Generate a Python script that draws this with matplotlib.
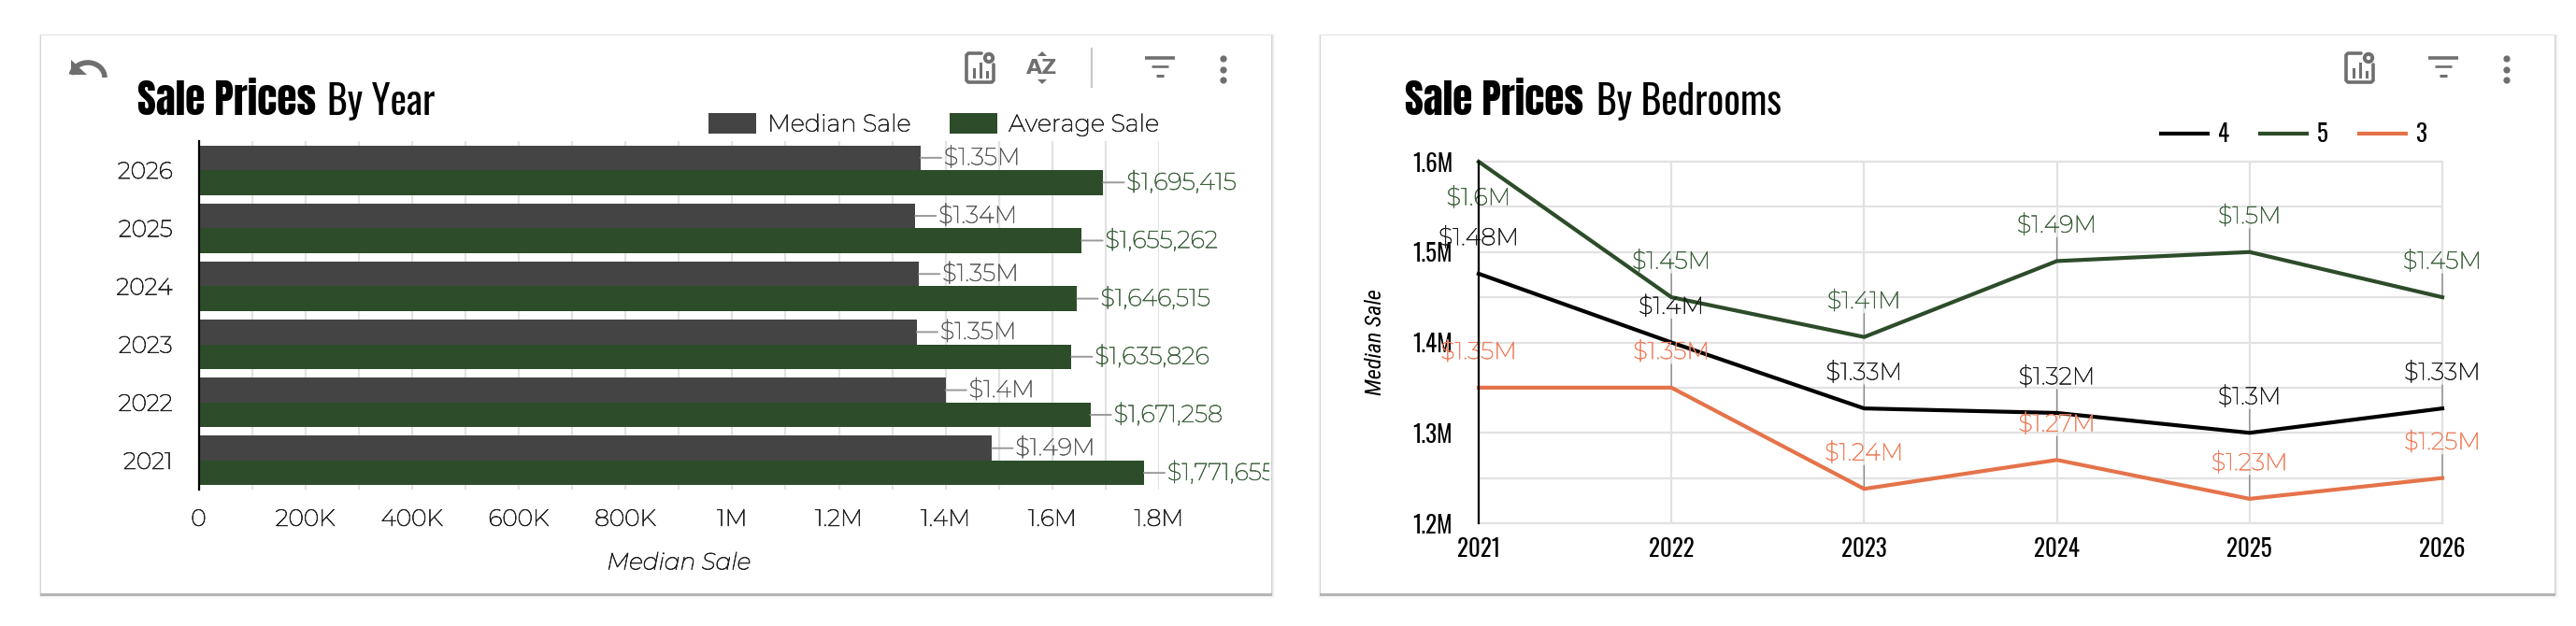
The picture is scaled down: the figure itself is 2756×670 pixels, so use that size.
import matplotlib
matplotlib.use("Agg")
import matplotlib.patheffects as pe
import matplotlib.pyplot as plt
from matplotlib import font_manager as fm
from matplotlib.patches import Arc, Circle, Polygon, Rectangle
from matplotlib.ticker import FuncFormatter, MultipleLocator
from matplotlib.transforms import Bbox

# ---- data -------------------------------------------------------------
years = [2021, 2022, 2023, 2024, 2025, 2026]
median_sale = [1487000, 1400000, 1346000, 1350000, 1343000, 1353000]
average_sale = [1771655, 1671258, 1635826, 1646515, 1655262, 1695415]

bedrooms_4 = [1476000, 1400000, 1327000, 1322000, 1300000, 1327000]
bedrooms_5 = [1600000, 1450000, 1406000, 1490000, 1500000, 1450000]
bedrooms_3 = [1350000, 1350000, 1238000, 1270000, 1227000, 1250000]

# ---- style ------------------------------------------------------------
W, H = 2756, 670
GREY = "#444444"
GREEN = "#2d4c2a"
GREEN_TEXT = "#40633f"
ORANGE = "#e5734a"
ORANGE_TEXT = "#ee7f5c"
GRID = "#e2e2e2"
ICON = "#6f6f6f"

HEAD = ["Oswald", "Roboto Condensed", "DejaVu Sans"]
HEAD_BOLD = ["Anton", "Oswald", "DejaVu Sans"]
BODY = ["Montserrat", "Inter", "DejaVu Sans"]
SLANTED = ["Roboto Condensed", "DejaVu Sans"]
plt.rcParams["font.family"] = BODY

fig = plt.figure(figsize=(W / 100, H / 100), dpi=100, facecolor="white")


def weight(artist, extra, color):
    """Thicken a text by stroking its outline in its own colour."""
    artist.set_path_effects([pe.withStroke(linewidth=extra, foreground=color)])
    return artist


def pixel_axes(left, top, right, bottom, **kw):
    return fig.add_axes([left / W, 1 - bottom / H, (right - left) / W, (bottom - top) / H], **kw)


# Backdrop layer in pixel coordinates: cards, shadows and toolbar icons.
bg = fig.add_axes([0, 0, 1, 1], zorder=0)
bg.set_xlim(0, W)
bg.set_ylim(H, 0)
bg.axis("off")


def card(x0, x1, y0=38, y1=635):
    for grow, alpha in [(7, 0.018), (5, 0.03), (3, 0.05), (1.5, 0.08)]:
        bg.add_patch(Rectangle((x0 - grow * 0.5, y0 - grow * 0.3), x1 - x0 + grow, y1 - y0 + grow * 1.1,
                               fc="black", ec="none", alpha=alpha))
    bg.add_patch(Rectangle((x0 - 1, y1), x1 - x0 + 2, 2.5, fc="#b5b5b5", ec="none"))
    bg.add_patch(Rectangle((x0, y0), x1 - x0, y1 - y0, fc="white", ec="none"))


def chart_icon(x, y):
    bg.plot([x + 17, x + 3, x + 1, x + 1, x + 3, x + 28, x + 30, x + 30],
            [y + 1, y + 1, y + 3, y + 30, y + 32, y + 32, y + 30, y + 13],
            color=ICON, lw=2.6, solid_capstyle="round", solid_joinstyle="round")
    for dx, top in [(9, 18), (16, 12), (23, 21)]:
        bg.plot([x + dx, x + dx], [y + 26, y + top], color=ICON, lw=2.2)
    bg.add_patch(Circle((x + 25, y + 6), 4.2, fc="none", ec=ICON, lw=2.8))


def filter_icon(x, y):
    for dy, inset, thick in [(0, 0, 2.6), (9, 7, 1.9), (19, 12, 2.2)]:
        bg.plot([x + inset, x + 32 - inset], [y + dy, y + dy], color=ICON, lw=thick, solid_capstyle="butt")


def kebab_icon(x):
    for y in (63, 75, 86):
        bg.add_patch(Circle((x, y), 3.6, fc=ICON, ec="none"))


card(44, 1360)
card(1413, 2733)

# Undo arrow on the left card.
bg.add_patch(Arc((94, 83), 36, 32, theta1=190, theta2=360, color=ICON, lw=4))
bg.add_patch(Polygon([(76, 64), (76, 80), (93, 80)], fc=ICON, ec="none"))

# Left toolbar.
chart_icon(1033, 56)
bg.text(1115, 73, "AZ", ha="center", va="center", fontsize=16, color=ICON, fontweight="bold", family="DejaVu Sans")
bg.add_patch(Polygon([(1110, 60), (1120, 60), (1115, 55)], fc=ICON, ec="none"))
bg.add_patch(Polygon([(1110, 85), (1120, 85), (1115, 90)], fc=ICON, ec="none"))
bg.plot([1168, 1168], [52, 93], color="#c8c8c8", lw=1.6)
filter_icon(1225, 62)
kebab_icon(1309)

# Right toolbar.
chart_icon(2509, 56)
filter_icon(2598, 62)
kebab_icon(2682)


def two_part_title(x_bold, x_light, text):
    bg.text(x_bold, 123, "Sale Prices", ha="left", va="baseline", fontsize=31, family=HEAD_BOLD, color="black")
    bg.text(x_light, 123, text, ha="left", va="baseline", fontsize=30, family=HEAD, color="black")


two_part_title(147, 350, "By Year")
two_part_title(1503, 1708, "By Bedrooms")


def short_money(value):
    return "$" + f"{value / 1e6:.2f}".rstrip("0").rstrip(".") + "M"


def axis_money(value, _pos):
    if value == 0:
        return "0"
    if value >= 1e6:
        return f"{value / 1e6:.1f}".rstrip("0").rstrip(".") + "M"
    return f"{value / 1e3:.0f}K"


# ---- bars: prices by year ---------------------------------------------
ax = pixel_axes(212.5, 151, 1240, 524, zorder=2)
ax.patch.set_visible(False)
rows = list(range(len(years)))
bar_h = 0.425
ax.barh([r + 0.2125 for r in rows], median_sale, height=bar_h, color=GREY, zorder=3, label="Median Sale")
ax.barh([r - 0.2125 for r in rows], average_sale, height=bar_h, color=GREEN, zorder=3, label="Average Sale")
ax.set_xlim(0, 1800000)
ax.set_ylim(-0.5, 5.5)
ax.set_yticks(rows, [str(y) for y in years])
ax.xaxis.set_major_locator(MultipleLocator(200000))
ax.xaxis.set_minor_locator(MultipleLocator(100000))
ax.xaxis.set_major_formatter(FuncFormatter(axis_money))
ax.grid(axis="x", which="both", color=GRID, lw=1.6, zorder=0)
ax.tick_params(axis="both", which="both", length=0, labelsize=18, colors="#222222")
ax.tick_params(axis="x", pad=15)
ax.tick_params(axis="y", pad=20)
for tick in ax.get_xticklabels() + ax.get_yticklabels():
    weight(tick, 0.55, "#222222")
for side in ("top", "right", "bottom"):
    ax.spines[side].set_visible(False)
ax.spines["left"].set_color("black")
ax.spines["left"].set_linewidth(1.6)
ax.spines["left"].set_zorder(5)
weight(ax.set_xlabel("Median Sale", fontsize=18, style="italic", color="#222222", labelpad=17), 0.55, "#222222")

card_clip = Bbox([[44, 0], [1358, H]])
for r, med, avg in zip(rows, median_sale, average_sale):
    for value, y, text, color in [(med, r + 0.2125, short_money(med), "#5a5a5a"),
                                  (avg, r - 0.2125, f"${avg:,}", GREEN_TEXT)]:
        note = ax.annotate(text, (value, y), xytext=(18, 0), textcoords="offset points", ha="left", va="center",
                           fontsize=18.5, color=color, zorder=6, annotation_clip=False,
                           arrowprops=dict(arrowstyle="-", color="#9a9a9a", lw=1.4, shrinkA=0, shrinkB=0, relpos=(0, 0.5)))
        note.set_clip_on(True)
        note.set_clip_box(card_clip)
        weight(note, 0.45, color)

legend = ax.legend(loc="lower right", bbox_to_anchor=(1.007, 0.997), ncols=2, frameon=False, fontsize=18.5,
                   handlelength=1.98, handleheight=0.97, handletextpad=0.47, columnspacing=1.6,
                   borderaxespad=0, borderpad=0.25, labelcolor="#222222")
for label in legend.get_texts():
    weight(label, 0.5, "#222222")

# ---- lines: prices by bedrooms ----------------------------------------
lx = pixel_axes(1582, 173, 2613, 560, zorder=2)
lx.patch.set_visible(False)
series = [("4", bedrooms_4, "black", "#1c1c1c"),
          ("5", bedrooms_5, GREEN, GREEN_TEXT),
          ("3", bedrooms_3, ORANGE, ORANGE_TEXT)]
for name, values, color, text_color in series:
    lx.plot(years, values, color=color, lw=3.0, label=name, zorder=4, solid_joinstyle="miter", clip_on=False)
    for year, value in zip(years, values):
        # The topmost point has no headroom, so its label drops below the line.
        below = value >= 1600000
        dy = -28 if below else 27.5
        note = lx.annotate(short_money(value), (year, value), xytext=(0, dy), textcoords="offset points",
                           ha="center", va="center", fontsize=18.5, color=text_color, zorder=5, annotation_clip=False)
        weight(note, 0.45, text_color)
        if not below:
            lx.annotate("", (year, value), xytext=(0, 18), textcoords="offset points", zorder=3,
                        arrowprops=dict(arrowstyle="-", color="#8c8c8c", lw=1.0, shrinkA=0, shrinkB=0))

lx.set_xlim(2021, 2026)
lx.set_ylim(1200000, 1600000)
lx.set_xticks(years, [str(y) for y in years], family=HEAD, fontsize=18)
lx.yaxis.set_major_locator(MultipleLocator(100000))
lx.yaxis.set_minor_locator(MultipleLocator(50000))
lx.yaxis.set_major_formatter(FuncFormatter(axis_money))
for tick in lx.get_yticklabels():
    tick.set_family(HEAD)
    tick.set_fontsize(18)
lx.grid(axis="y", which="both", color=GRID, lw=1.6, zorder=0)
lx.grid(axis="x", which="major", color=GRID, lw=1.6, zorder=0)
lx.tick_params(axis="both", which="both", length=0, colors="black")
lx.tick_params(axis="x", pad=11)
lx.tick_params(axis="y", pad=20)
for side in ("top", "right", "bottom"):
    lx.spines[side].set_color(GRID)
    lx.spines[side].set_linewidth(1.6)
lx.spines["left"].set_color("black")
lx.spines["left"].set_linewidth(1.6)
lx.spines["left"].set_zorder(5)
lx.set_ylabel("Median Sale", fontsize=17.5, style="italic", family=SLANTED, color="black", labelpad=20)

lx.legend(loc="lower right", bbox_to_anchor=(1.0, 1.0), ncols=3, frameon=False,
          prop=fm.FontProperties(family=HEAD, size=18),
          handlelength=2.0, handletextpad=0.45, columnspacing=1.3,
          borderaxespad=0.45, borderpad=0.2)

fig.savefig("out.png", dpi=100, facecolor="white")
